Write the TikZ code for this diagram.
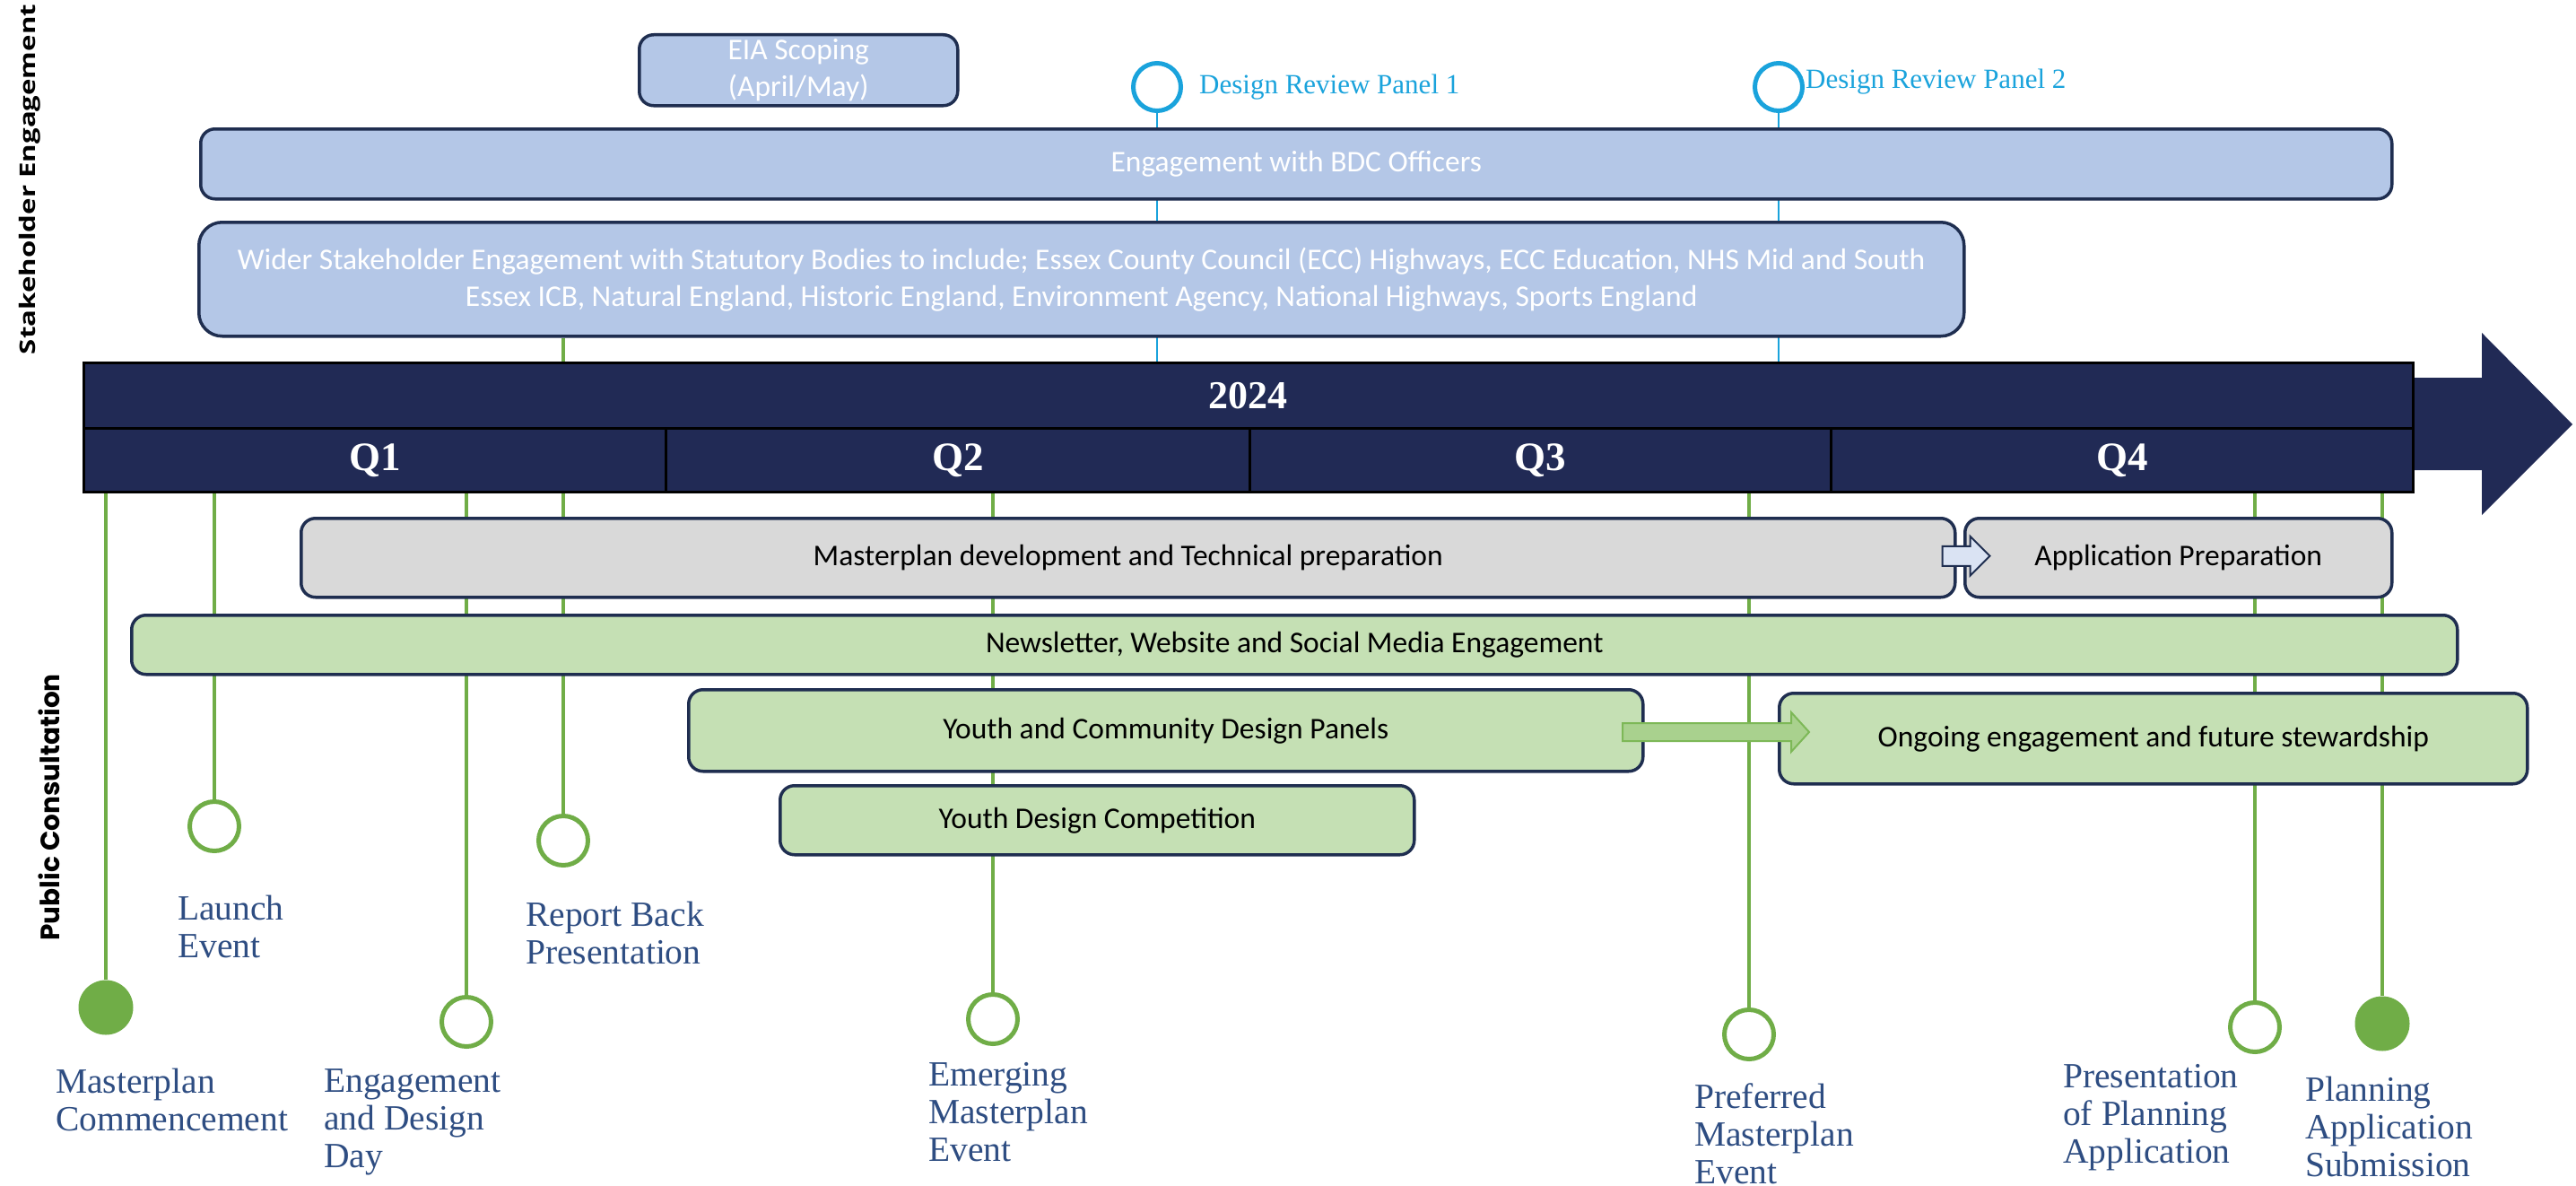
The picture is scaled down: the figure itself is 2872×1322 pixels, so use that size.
\documentclass[tikz,border=0pt]{standalone}
\usepackage{fontspec}
\setmainfont{Carlito}
\newfontfamily\lblfont{Liberation Serif}
\newfontfamily\sidefont{Poppins}
\newfontfamily\sidefontB[FakeStretch=1.3]{Open Sans}
\usetikzlibrary{calc}
\definecolor{navy}{HTML}{212A55}
\definecolor{boxline}{HTML}{1F2E50}
\definecolor{bluefill}{HTML}{B4C7E7}
\definecolor{grayfill}{HTML}{D9D9D9}
\definecolor{greenfill}{HTML}{C5E0B4}
\definecolor{greenline}{HTML}{70AD47}
\definecolor{blueline}{HTML}{1AA3DC}
\definecolor{labelblue}{HTML}{2E4D82}
\definecolor{arrowgreen}{HTML}{A9D18E}
\definecolor{arrowedge}{HTML}{7DB857}
\definecolor{smallarrow}{HTML}{DAE3F3}
\pgfdeclarelayer{bottom}
\pgfdeclarelayer{background}
\pgfsetlayers{bottom,background,main}
\begin{document}
\begin{tikzpicture}[x=1pt,y=-1pt,
  box/.style={draw=boxline, line width=3.5pt, rounded corners=16pt, anchor=north west,
    inner sep=0pt, align=center, font=\fontsize{33.5}{41}\selectfont},
  bbox/.style={box, fill=bluefill, text=white},
  gybox/.style={box, fill=grayfill, text=black},
  gnbox/.style={box, fill=greenfill, text=black},
  gline/.style={draw=greenline, line width=3.5pt},
  bline/.style={draw=blueline, line width=2.5pt},
  gring/.style={circle, draw=greenline, line width=5pt, fill=white, minimum size=55pt, inner sep=0pt},
  gdot/.style={circle, fill=greenline, minimum size=61pt, inner sep=0pt},
  bring/.style={circle, draw=blueline, line width=5pt, fill=white, minimum size=53pt, inner sep=0pt},
  evlabel/.style={anchor=north west, align=left, inner sep=0pt, text=labelblue,
    font=\lblfont\fontsize{39.5}{42}\selectfont},
  drplabel/.style={anchor=base west, inner sep=0pt, text=blueline,
    font=\lblfont\fontsize{31}{34}\selectfont},
  cell/.style={draw=black, line width=2.5pt, fill=navy, anchor=north west, inner sep=0pt,
    text=white, font=\lblfont\bfseries\fontsize{45}{48}\selectfont},
  sidelabel/.style={rotate=90, inner sep=0pt, text=black},
]
\useasboundingbox (0,0) rectangle (2872,1322);
\begin{pgfonlayer}{bottom}
  \fill[white] (0,0) rectangle (2872,1322);
\end{pgfonlayer}

% side labels
\node[sidelabel, font=\sidefontB\bfseries\fontsize{24}{28}\selectfont] (sh) at (33,200) {Stakeholder Engagement};
\node[sidelabel, font=\sidefont\bfseries\fontsize{29.5}{34}\selectfont] (pc) at (55,900) {Public Consultation};

% main timeline arrow (shape)
\fill[navy] (2650,421) -- (2767,421) -- (2767,371) -- (2868,473) -- (2767,574) -- (2767,524) -- (2650,524) -- cycle;

% timeline cells
\node[cell, minimum width=2597pt, minimum height=73pt] (yr) at (92,403) {\fontsize{44}{48}\selectfont 2024};
\node[cell, minimum width=649pt, minimum height=71pt] (q1) at (92,476) {Q1};
\node[cell, minimum width=651pt, minimum height=71pt] (q2) at (741,476) {Q2};
\node[cell, minimum width=648pt, minimum height=71pt] (q3) at (1392,476) {Q3};
\node[cell, minimum width=649pt, minimum height=71pt] (q4) at (2040,476) {Q4};

% stakeholder boxes
\node[bbox, minimum width=355pt, minimum height=79pt] (eia) at (711,37) {EIA Scoping\\(April/May)};
\node[bbox, minimum width=2443pt, minimum height=78pt] (bdc) at (222,142) {Engagement with BDC Officers};
\node[bbox, rounded corners=26pt, minimum width=1968pt, minimum height=127pt] (wider) at (220,246)
  {Wider Stakeholder Engagement with Statutory Bodies to include; Essex County Council (ECC) Highways, ECC Education, NHS Mid and South\\Essex ICB, Natural England, Historic England, Environment Agency, National Highways, Sports England};

% design review panels
\node[bring] (drp1) at (1290,97) {};
\node[bring] (drp2) at (1983,97) {};
\node[drplabel] (drp1t) at (1337,104) {Design Review Panel 1};
\node[drplabel] (drp2t) at (2013,99) {Design Review Panel 2};

% public consultation boxes
\node[gybox, minimum width=1844pt, minimum height=88pt] (mdev) at (334,576) {Masterplan development and Technical preparation};
\node[gybox, minimum width=476pt, minimum height=88pt] (aprep) at (2189,576) {Application Preparation};
\node[gnbox, minimum width=2593pt, minimum height=66pt] (news) at (145,684) {Newsletter, Website and Social Media Engagement};
\node[gnbox, minimum width=1064pt, minimum height=91pt] (ycp) at (766,767) {Youth and Community Design Panels};
\node[gnbox, minimum width=834pt, minimum height=101pt] (ongo) at (1982,771) {Ongoing engagement and future stewardship};
\node[gnbox, minimum width=707pt, minimum height=77pt] (ydc) at (868,874) {Youth Design Competition};

% block arrows between boxes
\coordinate (sa) at ($(mdev.east)+(-16,-2)$);
\filldraw[fill=smallarrow, draw=boxline, line width=2pt]
  ($(sa)+(0,-11)$) -- ++(31,0) -- ++(0,-11) -- ++(22,22) -- ++(-22,22) -- ++(0,-11) -- ++(-31,0) -- cycle;
\coordinate (ga) at (1809,816);
\filldraw[fill=arrowgreen, draw=arrowedge, line width=2pt]
  ($(ga)+(0,-10)$) -- ++(188,0) -- ++(0,-12) -- ++(20,22) -- ++(-20,22) -- ++(0,-12) -- ++(-188,0) -- cycle;

% event markers
\node[gdot]  (mc)  at (118,1123) {};
\node[gring] (le)  at (239,921) {};
\node[gring] (edd) at (520,1139) {};
\node[gring] (rb)  at (628,937) {};
\node[gring] (em)  at (1107,1136) {};
\node[gring] (pf)  at (1950,1153) {};
\node[gring] (pa)  at (2514,1145) {};
\node[gdot]  (ps)  at (2656,1141) {};

% event labels
\node[evlabel] (mct)  at (62,1191)   {Masterplan\\Commencement};
\node[evlabel] (let)  at (198,998)   {Launch\\Event};
\node[evlabel] (eddt) at (361,1191)  {Engagement\\and Design\\Day};
\node[evlabel] (rbt)  at (586,1005)  {Report Back\\Presentation};
\node[evlabel] (emt)  at (1035,1184) {Emerging\\Masterplan\\Event};
\node[evlabel] (pft)  at (1889,1207) {Preferred\\Masterplan\\Event};
\node[evlabel] (pat)  at (2300,1186) {Presentation\\of Planning\\Application};
\node[evlabel] (pst)  at (2570,1200) {Planning\\Application\\Submission};

% connectors (behind)
\begin{pgfonlayer}{background}
  \draw[bline] (drp1) -- (yr.north -| drp1);
  \draw[bline] (drp2) -- (yr.north -| drp2);
  \draw[gline] (q1.south -| mc) -- (mc);
  \draw[gline] (q1.south -| le) -- (le);
  \draw[gline] (q1.south -| edd) -- (edd);
  \draw[gline] (wider.south -| rb) -- (rb);
  \draw[gline] (q2.south -| em) -- (em);
  \draw[gline] (q3.south -| pf) -- (pf);
  \draw[gline] (q4.south -| pa) -- (pa);
  \draw[gline] (q4.south -| ps) -- (ps);
\end{pgfonlayer}
\end{tikzpicture}
\end{document}
